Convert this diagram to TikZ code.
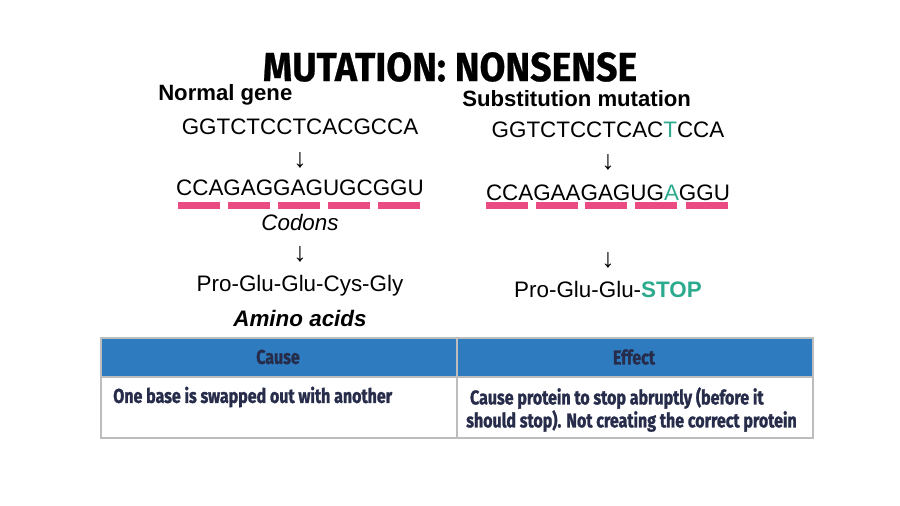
\documentclass[tikz,border=0pt]{standalone}
\usepackage{fontspec}
\setmainfont{Liberation Sans}
\newfontfamily\titlefont[FakeStretch=0.92,FakeBold=0.6]{Fira Sans}
\newfontfamily\tablefont[FakeStretch=0.80,FakeBold=1.2]{Fira Sans}
\usepackage{xcolor}

\definecolor{codonpink}{HTML}{E94B82}
\definecolor{mutteal}{HTML}{2BAA8E}
\definecolor{headblue}{HTML}{2E7BBF}
\definecolor{tabnavy}{HTML}{262C4A}
\definecolor{tabgray}{HTML}{BDBDBD}

\tikzset{
  seqtext/.style={inner sep=0pt, font=\fontsize{16.8}{18}\selectfont},
  headtext/.style={inner sep=0pt, font=\fontsize{16.6}{18}\selectfont\bfseries},
  downarrow/.style={inner sep=0pt, font=\fontsize{20}{22}\selectfont},
  cellhead/.style={inner sep=0pt, text=tabnavy, font=\tablefont\fontsize{15}{17}\selectfont\bfseries},
  celltext/.style={inner sep=0pt, text=tabnavy, align=left, font=\tablefont\fontsize{15}{14.6}\selectfont\bfseries},
  codonbar/.style={fill=codonpink, draw=none}
}

\begin{document}
\begin{tikzpicture}[x=0.75pt,y=-0.75pt]
  \useasboundingbox[fill=white] (0,0) rectangle (900,506);

  % title
  \node[inner sep=0pt, font=\titlefont\fontsize{30.5}{32}\selectfont\bfseries] (title) at (450,67) {MUTATION: NONSENSE};

  % normal gene
  \node[headtext, anchor=west] (normhead) at (158,95) {Normal gene};
  \node[seqtext] (normdna) at (300,127) {GGTCTCCTCACGCCA};
  \node[downarrow] (normarr1) at (300,160) {↓};
  \node[seqtext] (normrna) at (300,188) {CCAGAGGAGUGCGGU};
  \foreach \x in {178,228,278,328,378}
    \fill[codonbar] (\x,202) rectangle ++(42,7);
  \node[seqtext, font=\fontsize{16.8}{18}\selectfont\itshape] (codons) at (300,222) {Codons};
  \node[downarrow] (normarr2) at (300,254) {↓};
  \node[seqtext] (normprot) at (300,286) {Pro-Glu-Glu-Cys-Gly};
  \node[seqtext, font=\fontsize{16.8}{18}\selectfont\bfseries\itshape] (amino) at (300,318) {Amino acids};

  % substitution mutation
  \node[headtext, anchor=west] (subhead) at (462,99) {Substitution mutation};
  \node[seqtext] (subdna) at (608,130) {GGTCTCCTCAC\textcolor{mutteal}{T}CCA};
  \node[downarrow] (subarr1) at (608,162) {↓};
  \node[seqtext] (subrna) at (608,193) {CCAGAAGAGUG\textcolor{mutteal}{A}GGU};
  \foreach \x in {486,536,585,635,686}
    \fill[codonbar] (\x,202) rectangle ++(42,7);
  \node[downarrow] (subarr2) at (608,260) {↓};
  \node[seqtext] (subprot) at (608,289) {Pro-Glu-Glu-\textcolor{mutteal}{\bfseries STOP}};

  % table
  \fill[headblue] (101,338) rectangle (813,377);
  \draw[tabgray, line width=0.8pt] (101,338) rectangle (813,438);
  \draw[tabgray, line width=0.8pt] (101,377) -- (813,377);
  \draw[tabgray, line width=0.8pt] (457,338) -- (457,438);
  \node[cellhead] (causehead) at (278,357) {Cause};
  \node[cellhead] (effecthead) at (634,357) {Effect};
  \node[celltext, anchor=west] (causetext) at (113,397) {One base is swapped out with another};
  \node[celltext, anchor=north west] (effecttext) at (466,387) {\ Cause protein to stop abruptly (before it\\should stop). Not creating the correct protein};
\end{tikzpicture}
\end{document}
